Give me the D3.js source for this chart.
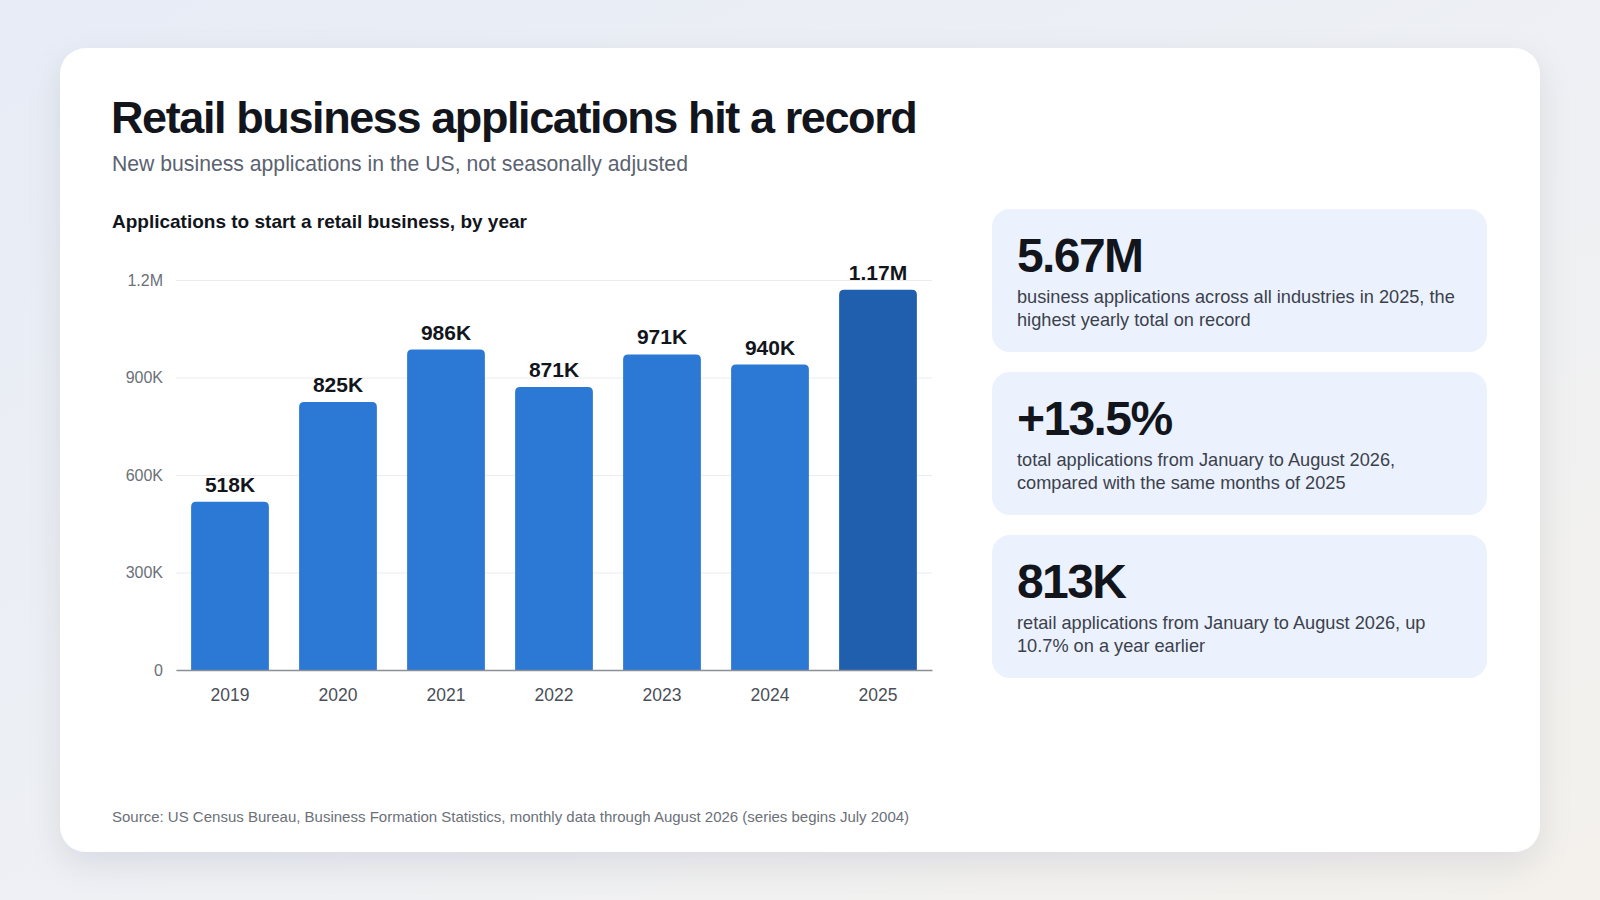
<!DOCTYPE html>
<html>
<head>
<meta charset="utf-8">
<script src="https://cdn.jsdelivr.net/npm/d3@7"></script>
<style>
  html, body { margin: 0; padding: 0; }
  body { width: 1600px; height: 900px; overflow: hidden; font-family: "Helvetica Neue", Helvetica, "Liberation Sans", Arial, sans-serif; }
  svg text { font-family: "Helvetica Neue", Helvetica, "Liberation Sans", Arial, sans-serif; }
</style>
</head>
<body>
<svg id="page" width="1600" height="900"></svg>
<script>
/* ---------- data ---------- */
const years = ['2019', '2020', '2021', '2022', '2023', '2024', '2025'];
const applications = [518000, 825000, 986000, 871000, 971000, 940000, 1170000];
const highlightYear = '2025';
const yTicks = [0, 300000, 600000, 900000, 1200000];

const statValues = ['5.67M', '+13.5%', '813K'];
const statNotes = [
  ['business applications across all industries in 2025, the', 'highest yearly total on record'],
  ['total applications from January to August 2026,', 'compared with the same months of 2025'],
  ['retail applications from January to August 2026, up', '10.7% on a year earlier']
];

const title = 'Retail business applications hit a record';
const subtitle = 'New business applications in the US, not seasonally adjusted';
const chartHeading = 'Applications to start a retail business, by year';
const source = 'Source: US Census Bureau, Business Formation Statistics, monthly data through August 2026 (series begins July 2004)';

/* ---------- helpers ---------- */
function fmtShort(v) {
  if (v === 0) return '0';
  if (v >= 1e6) return (v / 1e6).toFixed(2).replace(/\.?0+$/, '') + 'M';
  return Math.round(v / 1e3) + 'K';
}

// bar with rounded top corners only
function topRoundedBar(x, y, w, h, r) {
  r = Math.min(r, w / 2, h);
  return `M${x},${y + h}V${y + r}Q${x},${y} ${x + r},${y}H${x + w - r}Q${x + w},${y} ${x + w},${y + r}V${y + h}Z`;
}

const svg = d3.select('#page');

/* ---------- background + card ---------- */
const defs = svg.append('defs');
const bg = defs.append('linearGradient').attr('id', 'bg')
  .attr('x1', '0').attr('y1', '0').attr('x2', '1').attr('y2', '1');
bg.append('stop').attr('offset', '0%').attr('stop-color', '#e7ecf6');
bg.append('stop').attr('offset', '55%').attr('stop-color', '#eef0f4');
bg.append('stop').attr('offset', '100%').attr('stop-color', '#f4f1ec');

const shadow = defs.append('filter').attr('id', 'shadow')
  .attr('x', '-10%').attr('y', '-10%').attr('width', '120%').attr('height', '130%');
shadow.append('feDropShadow')
  .attr('dx', 0).attr('dy', 12).attr('stdDeviation', 16)
  .attr('flood-color', '#1c2333').attr('flood-opacity', 0.09);

svg.append('rect').attr('width', 1600).attr('height', 900).attr('fill', 'url(#bg)');
svg.append('rect')
  .attr('x', 60).attr('y', 48).attr('width', 1480).attr('height', 804)
  .attr('rx', 26).attr('fill', '#ffffff').attr('filter', 'url(#shadow)');

/* ---------- headings ---------- */
svg.append('text')
  .attr('x', 111).attr('y', 133)
  .attr('fill', '#12151c')
  .style('font-size', '45px').style('font-weight', 700).style('letter-spacing', '-1.4px')
  .text(title);

svg.append('text')
  .attr('x', 112).attr('y', 171)
  .attr('fill', '#5b6270')
  .style('font-size', '21.2px')
  .text(subtitle);

svg.append('text')
  .attr('x', 112).attr('y', 228)
  .attr('fill', '#12151c')
  .style('font-size', '19px').style('font-weight', 700)
  .text(chartHeading);

/* ---------- bar chart ---------- */
const plot = { left: 176, right: 932, top: 280, bottom: 670 };

const x = d3.scaleBand()
  .domain(years)
  .range([plot.left, plot.right])
  .paddingInner(0.28)
  .paddingOuter(0.14);

const y = d3.scaleLinear()
  .domain([0, 1200000])
  .range([plot.bottom, plot.top]);

const chart = svg.append('g').attr('class', 'chart');

// grid + y labels
const yAxis = chart.append('g')
  .attr('transform', `translate(${plot.left},0)`)
  .call(d3.axisLeft(y).tickValues(yTicks).tickSize(-(plot.right - plot.left)).tickPadding(13).tickFormat(fmtShort));
yAxis.select('.domain').remove();
yAxis.selectAll('.tick line').attr('stroke', '#ececef').attr('stroke-width', 1);
yAxis.selectAll('.tick text')
  .attr('fill', '#6b7079')
  .style('font-size', '16px');

// bars
chart.append('g').selectAll('path.bar')
  .data(years)
  .join('path')
  .attr('class', 'bar')
  .attr('fill', (d) => d === highlightYear ? '#1f5fae' : '#2b78d5')
  .attr('d', (d, i) => topRoundedBar(x(d), y(applications[i]), x.bandwidth(), y(0) - y(applications[i]), 5));

// baseline + x labels
const xAxis = chart.append('g')
  .attr('transform', `translate(0,${plot.bottom})`)
  .call(d3.axisBottom(x).tickSize(0).tickPadding(19));
xAxis.select('.domain').attr('stroke', '#8c8f96').attr('stroke-width', 1.5);
xAxis.selectAll('.tick text')
  .attr('fill', '#4a4f59')
  .style('font-size', '17.5px');

// value labels
chart.append('g').selectAll('text.value')
  .data(years)
  .join('text')
  .attr('class', 'value')
  .attr('x', (d) => x(d) + x.bandwidth() / 2)
  .attr('y', (d, i) => y(applications[i]) - 10)
  .attr('text-anchor', 'middle')
  .attr('fill', '#12151c')
  .style('font-size', '21px').style('font-weight', 700)
  .text((d, i) => fmtShort(applications[i]));

/* ---------- stat cards ---------- */
const cardX = 992, cardW = 495, cardH = 143;
const cardY = d3.scalePoint().domain(d3.range(statValues.length)).range([209, 535]);

const cards = svg.append('g').selectAll('g.stat')
  .data(statValues)
  .join('g')
  .attr('class', 'stat')
  .attr('transform', (d, i) => `translate(${cardX},${cardY(i)})`);

cards.append('rect')
  .attr('width', cardW).attr('height', cardH).attr('rx', 18)
  .attr('fill', '#ebf2fd');

cards.append('text')
  .attr('x', 25).attr('y', 63)
  .attr('fill', '#12151c')
  .style('font-size', '48px').style('font-weight', 700).style('letter-spacing', '-1.6px')
  .text((d) => d);

cards.append('text')
  .attr('fill', '#3b414c')
  .style('font-size', '18.2px')
  .selectAll('tspan')
  .data((d, i) => statNotes[i])
  .join('tspan')
  .attr('x', 25)
  .attr('y', (d, j) => 94 + j * 23)
  .text((d) => d);

/* ---------- source ---------- */
svg.append('text')
  .attr('x', 112).attr('y', 822)
  .attr('fill', '#6b7079')
  .style('font-size', '15px')
  .text(source);
</script>
</body>
</html>
